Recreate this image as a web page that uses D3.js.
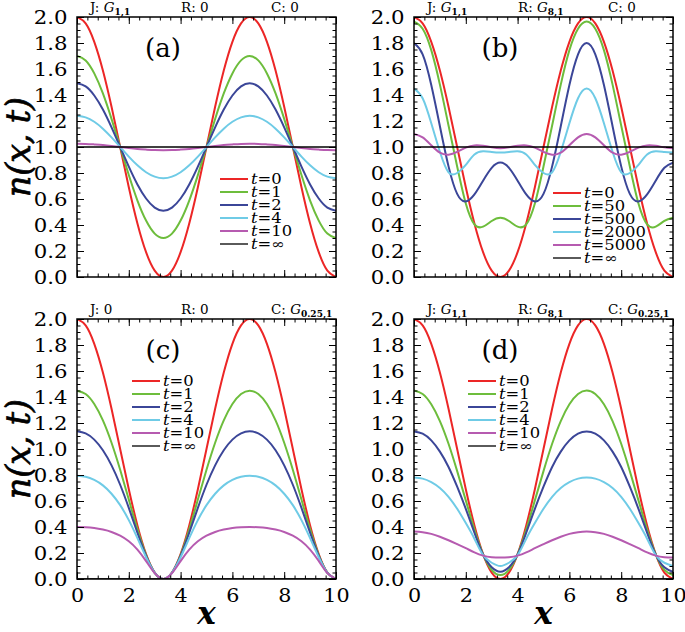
<!DOCTYPE html>
<html><head><meta charset="utf-8">
<script src="https://cdn.jsdelivr.net/npm/d3@7"></script>
<style>body{margin:0;background:#fff}</style>
</head><body><svg id="c" width="685" height="632"></svg>
<script>
// ---------- DATA ----------
const xGrid = [0, 0.3333, 0.6667, 1, 1.3333, 1.6667, 2, 2.3333, 2.6667, 3, 3.3333, 3.6667, 4, 4.3333, 4.6667, 5, 5.3333, 5.6667, 6, 6.3333, 6.6667, 7, 7.3333, 7.6667, 8, 8.3333, 8.6667, 9, 9.3333, 9.6667, 10];
const xTickValues = [0, 2, 4, 6, 8, 10];
const yTickValues = [0, 0.2, 0.4, 0.6, 0.8, 1.0, 1.2, 1.4, 1.6, 1.8, 2.0];

const legendA = ["0", "1", "2", "4", "10", "\u221E"];
const legendB = ["0", "50", "500", "2000", "5000", "\u221E"];
const legendC = ["0", "1", "2", "4", "10", "\u221E"];
const legendD = ["0", "1", "2", "4", "10", "\u221E"];

// operators: J, R, C  ("G|sub" means G with subscript)
const opsA = ["G|1,1", "0", "0"];
const opsB = ["G|1,1", "G|8,1", "0"];
const opsC = ["0", "0", "G|0.25,1"];
const opsD = ["G|1,1", "G|8,1", "G|0.25,1"];

const initial = [2, 1.951, 1.809, 1.588, 1.309, 1, 0.691, 0.412, 0.191, 0.049, 0, 0.049, 0.191, 0.412, 0.691, 1, 1.309, 1.588, 1.809, 1.951, 2, 1.951, 1.809, 1.588, 1.309, 1, 0.691, 0.412, 0.191, 0.049, 0];
const ones = [1,1,1,1,1,1,1,1,1,1,1,1,1,1,1,1,1,1,1,1,1,1,1,1,1,1,1,1,1,1,1];
const zeros = [0,0,0,0,0,0,0,0,0,0,0,0,0,0,0,0,0,0,0,0,0,0,0,0,0,0,0,0,0,0,0];

// panel (a)
const aT1 = [1.7, 1.666, 1.566, 1.412, 1.216, 1, 0.784, 0.588, 0.434, 0.334, 0.3, 0.334, 0.434, 0.588, 0.784, 1, 1.216, 1.412, 1.566, 1.666, 1.7, 1.666, 1.566, 1.412, 1.216, 1, 0.784, 0.588, 0.434, 0.334, 0.3];
const aT2 = [1.49, 1.466, 1.396, 1.288, 1.151, 1, 0.849, 0.712, 0.604, 0.534, 0.51, 0.534, 0.604, 0.712, 0.849, 1, 1.151, 1.288, 1.396, 1.466, 1.49, 1.466, 1.396, 1.288, 1.151, 1, 0.849, 0.712, 0.604, 0.534, 0.51];
const aT4 = [1.24, 1.228, 1.194, 1.141, 1.074, 1, 0.926, 0.859, 0.806, 0.772, 0.76, 0.772, 0.806, 0.859, 0.926, 1, 1.074, 1.141, 1.194, 1.228, 1.24, 1.228, 1.194, 1.141, 1.074, 1, 0.926, 0.859, 0.806, 0.772, 0.76];
const aT10 = [1.025, 1.024, 1.02, 1.015, 1.008, 1, 0.992, 0.985, 0.98, 0.976, 0.975, 0.976, 0.98, 0.985, 0.992, 1, 1.008, 1.015, 1.02, 1.024, 1.025, 1.024, 1.02, 1.015, 1.008, 1, 0.992, 0.985, 0.98, 0.976, 0.975];

// panel (b)
const bT50 = [1.965, 1.91, 1.745, 1.48, 1.165, 0.85, 0.565, 0.405, 0.387, 0.431, 0.456, 0.431, 0.387, 0.405, 0.565, 0.85, 1.165, 1.48, 1.745, 1.91, 1.965, 1.91, 1.745, 1.48, 1.165, 0.85, 0.565, 0.405, 0.387, 0.431, 0.456];
const bT500 = [1.8, 1.713, 1.477, 1.16, 0.851, 0.639, 0.581, 0.635, 0.741, 0.84, 0.88, 0.84, 0.741, 0.635, 0.581, 0.639, 0.851, 1.16, 1.477, 1.713, 1.8, 1.713, 1.477, 1.16, 0.851, 0.639, 0.581, 0.635, 0.741, 0.84, 0.88];
const bT2000 = [1.45, 1.375, 1.183, 0.963, 0.805, 0.8, 0.863, 0.942, 0.967, 0.962, 0.958, 0.962, 0.967, 0.942, 0.863, 0.8, 0.805, 0.963, 1.183, 1.375, 1.45, 1.375, 1.183, 0.963, 0.805, 0.8, 0.863, 0.942, 0.967, 0.962, 0.958];
const bT5000 = [1.1, 1.074, 1.013, 0.956, 0.941, 0.962, 0.995, 1.012, 1.009, 0.998, 0.99, 0.998, 1.009, 1.012, 0.995, 0.962, 0.941, 0.956, 1.013, 1.074, 1.1, 1.074, 1.013, 0.956, 0.941, 0.962, 0.995, 1.012, 1.009, 0.998, 0.99];

// panel (c)
const cT1 = [1.449, 1.423, 1.346, 1.22, 1.048, 0.84, 0.611, 0.382, 0.184, 0.048, 0, 0.048, 0.184, 0.382, 0.611, 0.84, 1.048, 1.22, 1.346, 1.423, 1.449, 1.423, 1.346, 1.22, 1.048, 0.84, 0.611, 0.382, 0.184, 0.048, 0];
const cT2 = [1.136, 1.12, 1.072, 0.99, 0.874, 0.725, 0.547, 0.356, 0.178, 0.048, 0, 0.048, 0.178, 0.356, 0.547, 0.725, 0.874, 0.99, 1.072, 1.12, 1.136, 1.12, 1.072, 0.99, 0.874, 0.725, 0.547, 0.356, 0.178, 0.048, 0];
const cT4 = [0.794, 0.786, 0.762, 0.72, 0.656, 0.568, 0.453, 0.314, 0.167, 0.047, 0, 0.047, 0.167, 0.314, 0.453, 0.568, 0.656, 0.72, 0.762, 0.786, 0.794, 0.786, 0.762, 0.72, 0.656, 0.568, 0.453, 0.314, 0.167, 0.047, 0];
const cT10 = [0.4, 0.398, 0.392, 0.38, 0.362, 0.333, 0.29, 0.226, 0.138, 0.045, 0, 0.045, 0.138, 0.226, 0.29, 0.333, 0.362, 0.38, 0.392, 0.398, 0.4, 0.398, 0.392, 0.38, 0.362, 0.333, 0.29, 0.226, 0.138, 0.045, 0];

// panel (d)
const dT1 = [1.45, 1.423, 1.344, 1.215, 1.04, 0.83, 0.605, 0.38, 0.19, 0.07, 0.03, 0.07, 0.19, 0.38, 0.605, 0.83, 1.04, 1.215, 1.344, 1.423, 1.45, 1.423, 1.344, 1.215, 1.04, 0.83, 0.605, 0.38, 0.19, 0.07, 0.03];
const dT2 = [1.135, 1.118, 1.066, 0.98, 0.862, 0.71, 0.54, 0.356, 0.188, 0.09, 0.056, 0.09, 0.188, 0.356, 0.54, 0.71, 0.862, 0.98, 1.066, 1.118, 1.135, 1.118, 1.066, 0.98, 0.862, 0.71, 0.54, 0.356, 0.188, 0.09, 0.056];
const dT4 = [0.78, 0.772, 0.745, 0.7, 0.632, 0.54, 0.43, 0.31, 0.184, 0.125, 0.1, 0.125, 0.184, 0.31, 0.43, 0.54, 0.632, 0.7, 0.745, 0.772, 0.78, 0.772, 0.745, 0.7, 0.632, 0.54, 0.43, 0.31, 0.184, 0.125, 0.1];
const dT10 = [0.365, 0.36, 0.347, 0.325, 0.298, 0.268, 0.237, 0.205, 0.18, 0.168, 0.165, 0.168, 0.18, 0.205, 0.237, 0.268, 0.298, 0.325, 0.347, 0.36, 0.365, 0.36, 0.347, 0.325, 0.298, 0.268, 0.237, 0.205, 0.18, 0.168, 0.165];

// ---------- LAYOUT ----------
const W = 259, H = 260;
const colors = ["#ec2626", "#6dbd3c", "#3b4698", "#6fcbe6", "#b65bb0", "#000000"];
const widths = [2, 2, 2, 2, 2, 1.3];
const SERIF = "'DejaVu Serif', serif";

const panels = [
  {key: "a", left: 77, top: 17, series: [initial, aT1, aT2, aT4, aT10, ones], legend: legendA, ops: opsA, legX: 143, legY: 162, xLabels: false, yTitle: true},
  {key: "b", left: 414, top: 17, series: [initial, bT50, bT500, bT2000, bT5000, ones], legend: legendB, ops: opsB, legX: 139, legY: 176, xLabels: false, yTitle: false},
  {key: "c", left: 77, top: 319, series: [initial, cT1, cT2, cT4, cT10, zeros], legend: legendC, ops: opsC, legX: 55, legY: 62, xLabels: true, yTitle: true},
  {key: "d", left: 414, top: 319, series: [initial, dT1, dT2, dT4, dT10, zeros], legend: legendD, ops: opsD, legX: 54, legY: 62, xLabels: true, yTitle: false}
];

const svg = d3.select("#c");
const defs = svg.append("defs");

function clean(sel) {
  sel.select(".domain").remove();
  sel.selectAll("line").attr("stroke", "#000").attr("stroke-width", 1);
}

panels.forEach(p => {
  const x = d3.scaleLinear().domain([0, 10]).range([p.left, p.left + W]);
  const y = d3.scaleLinear().domain([0, 2]).range([p.top + H, p.top]);
  const g = svg.append("g");

  defs.append("clipPath").attr("id", "clip" + p.key)
    .append("rect").attr("x", p.left).attr("y", p.top).attr("width", W).attr("height", H);

  const line = d3.line().x((d, i) => x(xGrid[i])).y(d => y(d)).curve(d3.curveNatural);
  g.append("g").attr("clip-path", `url(#clip${p.key})`)
    .selectAll("path").data(p.series).join("path")
    .attr("d", line).attr("fill", "none")
    .attr("stroke", (d, i) => colors[i]).attr("stroke-width", (d, i) => widths[i]);

  const yMinor = d3.range(0, 2.0001, 0.05);
  const xMinor = d3.range(0, 10.001, 0.4);

  // minor ticks
  g.append("g").attr("transform", `translate(${p.left},0)`).call(d3.axisLeft(y).tickValues(yMinor).tickSize(-3.5).tickFormat("")).call(clean);
  g.append("g").attr("transform", `translate(${p.left + W},0)`).call(d3.axisRight(y).tickValues(yMinor).tickSize(-3.5).tickFormat("")).call(clean);
  g.append("g").attr("transform", `translate(0,${p.top + H})`).call(d3.axisBottom(x).tickValues(xMinor).tickSize(-3.5).tickFormat("")).call(clean);
  g.append("g").attr("transform", `translate(0,${p.top})`).call(d3.axisTop(x).tickValues(xMinor).tickSize(-3.5).tickFormat("")).call(clean);
  // major ticks
  const yl = g.append("g").attr("transform", `translate(${p.left},0)`)
    .call(d3.axisLeft(y).tickValues(yTickValues).tickSize(-7).tickPadding(8).tickFormat(d3.format(".1f"))).call(clean);
  yl.selectAll("text").attr("font-family", SERIF).attr("font-size", 18).attr("fill", "#000")
    .attr("transform", "scale(1.18,1)").attr("dy", "0.36em");
  g.append("g").attr("transform", `translate(${p.left + W},0)`).call(d3.axisRight(y).tickValues(yTickValues).tickSize(-7).tickFormat("")).call(clean);
  const xb = g.append("g").attr("transform", `translate(0,${p.top + H})`)
    .call(d3.axisBottom(x).tickValues(xTickValues).tickSize(-7).tickPadding(8).tickFormat(p.xLabels ? d3.format("d") : "")).call(clean);
  xb.selectAll("text").attr("font-family", SERIF).attr("font-size", 18).attr("fill", "#000")
    .attr("x", 0).attr("transform", "scale(1.15,1)").attr("dy", "0.85em");
  g.append("g").attr("transform", `translate(0,${p.top})`).call(d3.axisTop(x).tickValues(xTickValues).tickSize(-7).tickFormat("")).call(clean);

  // frame
  g.append("rect").attr("x", p.left).attr("y", p.top).attr("width", W).attr("height", H)
    .attr("fill", "none").attr("stroke", "#000").attr("stroke-width", 1.5);

  // panel label
  g.append("text").attr("x", p.left + 86).attr("y", p.top + 40).attr("text-anchor", "middle")
    .attr("font-family", SERIF).attr("font-size", 26).text(`(${p.key})`);

  // operator labels
  const opNames = ["J", "R", "C"];
  const opX = [13, 104, 194];
  p.ops.forEach((o, i) => {
    const t = g.append("text").attr("x", p.left + opX[i]).attr("y", p.top - 5.5)
      .attr("font-family", SERIF).attr("font-size", 13.5);
    t.append("tspan").text(opNames[i] + ": ");
    if (o.startsWith("G|")) {
      t.append("tspan").attr("font-style", "italic").text("G");
      t.append("tspan").attr("font-size", 9).attr("font-weight", "bold").attr("dy", 3).text(o.slice(2));
    } else {
      t.append("tspan").text(o);
    }
  });

  // legend
  p.legend.forEach((lab, i) => {
    const yy = p.top + p.legY + 13 * i;
    g.append("line").attr("x1", p.left + p.legX).attr("x2", p.left + p.legX + 28)
      .attr("y1", yy).attr("y2", yy).attr("stroke", colors[i]).attr("stroke-width", widths[i]);
    const t = g.append("text")
      .attr("transform", `translate(${p.left + p.legX + 31},${yy + 5}) scale(1.17,1)`)
      .attr("font-family", SERIF).attr("font-size", 14);
    t.append("tspan").attr("font-style", "italic").text("t");
    t.append("tspan").text("=" + lab);
  });

  // axis titles
  if (p.yTitle) {
    svg.append("text").attr("transform", `translate(30,${p.top + H / 2}) rotate(-90)`)
      .attr("text-anchor", "middle").attr("font-family", SERIF).attr("font-size", 33)
      .attr("font-style", "italic").attr("stroke", "#000").attr("stroke-width", 0.7).text("n(x, t)");
  }
  if (p.xLabels) {
    svg.append("text").attr("x", p.left + W / 2).attr("y", 624).attr("text-anchor", "middle")
      .attr("font-family", SERIF).attr("font-size", 31).attr("font-style", "italic").attr("font-weight", "bold").text("x");
  }
});
</script></body></html>
